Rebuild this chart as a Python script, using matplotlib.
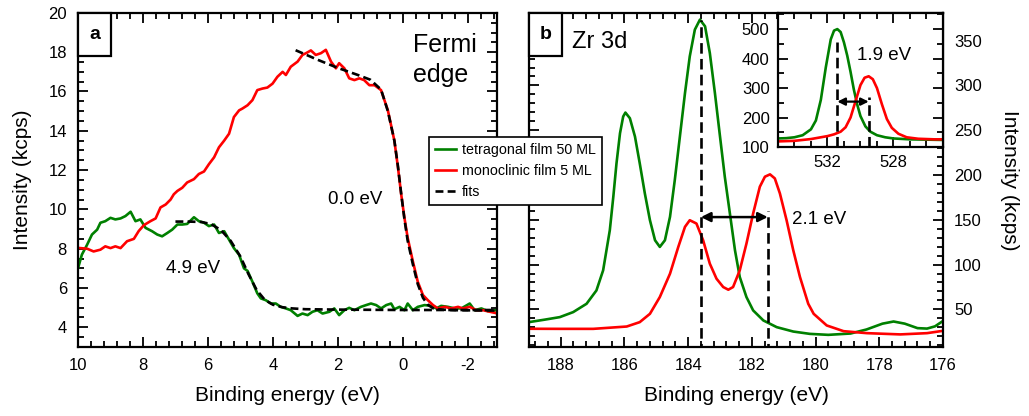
import matplotlib
matplotlib.use("Agg")
import matplotlib.pyplot as plt
from matplotlib.ticker import MultipleLocator, AutoMinorLocator
from matplotlib.patches import Rectangle

plt.rcParams["font.family"] = ["Liberation Sans", "DejaVu Sans"]
plt.rcParams["axes.unicode_minus"] = False

GREEN = "#008000"
RED = "#ff0000"

# --- panel a: valence band / Fermi edge (kcps) ---
mono_e = [9.93, 9.72, 9.52, 9.31, 9.16, 9.0, 8.85, 8.69, 8.49, 8.28, 8.13, 7.97, 7.77, 7.61,
          7.46, 7.3, 7.15, 7.05, 6.94, 6.79, 6.64, 6.43, 6.28, 6.12, 5.97, 5.81, 5.66, 5.5,
          5.35, 5.2, 5.04, 4.94, 4.78, 4.63, 4.48, 4.32, 4.17, 4.01, 3.86, 3.7, 3.6, 3.45,
          3.24, 3.09, 2.98, 2.83, 2.68, 2.52, 2.37, 2.21, 2.06, 1.96, 1.8, 1.65, 1.49, 1.34,
          1.19, 1.03, 0.87, 0.67, 0.46, 0.26, 0.15, 0.05, -0.05, -0.15, -0.31, -0.46, -0.62,
          -0.77, -0.93, -1.08, -1.29, -1.49, -1.7, -1.85, -2.06, -2.26, -2.47, -2.68, -2.93]
mono_i = [8.03, 8.0, 7.86, 7.95, 8.12, 8.03, 8.12, 8.03, 8.38, 8.5, 8.9, 9.2, 9.4, 9.54,
          10.1, 10.25, 10.5, 10.77, 10.94, 11.1, 11.37, 11.54, 11.8, 11.93, 12.3, 12.65, 13.16, 13.5,
          13.85, 14.7, 15.04, 15.13, 15.3, 15.56, 16.07, 16.15, 16.2, 16.4, 16.75, 17.0, 16.84, 17.26,
          17.52, 17.86, 17.95, 18.09, 17.86, 17.95, 18.12, 17.52, 17.18, 17.44, 17.18, 16.67, 16.58, 16.67,
          16.58, 16.32, 16.32, 16.07, 15.04, 13.5, 12.14, 10.77, 9.57, 8.55, 7.35, 6.32, 5.64,
          5.38, 5.13, 4.96, 5.04, 4.96, 5.04, 4.96, 5.04, 4.87, 4.87, 4.79, 4.7]

tetra_e = [10.0, 9.88, 9.72, 9.57, 9.41, 9.31, 9.16, 9.0, 8.85, 8.69, 8.54, 8.38, 8.23, 8.08,
           7.92, 7.72, 7.56, 7.41, 7.25, 7.1, 6.94, 6.79, 6.64, 6.43, 6.28, 6.12, 5.97, 5.81,
           5.66, 5.5, 5.35, 5.2, 5.04, 4.89, 4.78, 4.63, 4.48, 4.37, 4.22, 4.06, 3.91, 3.76,
           3.6, 3.45, 3.24, 3.09, 2.93, 2.78, 2.63, 2.47, 2.26, 2.11, 1.96, 1.8, 1.65, 1.49,
           1.29, 1.13, 0.98, 0.82, 0.67, 0.51, 0.36, 0.26, 0.1, -0.05, -0.15, -0.31, -0.46,
           -0.67, -0.87, -1.03, -1.18, -1.39, -1.6, -1.8, -2.06, -2.21, -2.42, -2.62, -2.88]
tetra_i = [7.0, 7.7, 8.2, 8.72, 8.97, 9.32, 9.4, 9.57, 9.49, 9.54, 9.66, 9.88, 9.4, 9.49,
           9.06, 8.89, 8.72, 8.63, 8.8, 8.97, 9.23, 9.23, 9.26, 9.6, 9.4, 9.32, 9.15, 9.23,
           8.8, 8.89, 8.46, 8.03, 7.69, 7.0, 6.87, 6.32, 5.73, 5.47, 5.38, 5.21, 5.21, 5.04,
           4.96, 4.87, 4.58, 4.7, 4.62, 4.79, 4.87, 4.7, 4.79, 4.96, 4.62, 4.87, 4.99, 4.87,
           5.04, 5.13, 5.21, 5.13, 4.96, 5.13, 5.21, 4.92, 5.04, 4.87, 5.21, 4.87, 5.04,
           5.13, 5.09, 4.96, 5.09, 5.04, 4.96, 4.96, 5.21, 4.87, 4.96, 4.82, 4.87]

fit_mono_e = [3.3, 2.6, 2.0, 1.4, 1.0, 0.67, 0.46, 0.26, 0.15, 0.05, -0.05, -0.15, -0.31,
              -0.46, -0.62, -0.77, -0.93, -1.2, -1.6, -2.2, -2.93]
fit_mono_i = [18.1, 17.6, 17.2, 16.85, 16.6, 16.1, 15.0, 13.5, 12.2, 10.8, 9.5, 8.4, 7.2,
              6.2, 5.5, 5.15, 4.97, 4.9, 4.87, 4.86, 4.85]

fit_tetra_e = [7.0, 6.6, 6.2, 5.9, 5.6, 5.3, 5.0, 4.75, 4.5, 4.25, 4.0, 3.7, 3.4, 3.0,
               2.0, 1.0, 0.0, -1.0, -2.0, -2.93]
fit_tetra_i = [9.38, 9.38, 9.36, 9.25, 8.95, 8.4, 7.6, 6.7, 5.9, 5.4, 5.15, 5.02, 4.96, 4.92,
               4.9, 4.89, 4.88, 4.88, 4.88, 4.88]

# --- panel b: Zr 3d core level (kcps) ---
zr_tetra_e = [189.0, 188.5, 188.03, 187.61, 187.19, 186.88, 186.67, 186.46, 186.35, 186.25,
              186.14, 186.04, 185.97, 185.83, 185.67, 185.52, 185.36, 185.2, 185.04, 184.89,
              184.73, 184.57, 184.42, 184.26, 184.1, 183.95, 183.79, 183.63, 183.47, 183.32,
              183.16, 183.0, 182.85, 182.69, 182.53, 182.38, 182.17, 181.96, 181.64, 181.22,
              180.7, 180.18, 179.6, 178.9, 178.4, 177.9, 177.55, 177.2, 176.8, 176.5,
              176.25, 176.0]
zr_tetra_i = [35.7, 38.5, 41.3, 46.9, 56.2, 71.1, 93.5, 138.3, 175.7, 213.0,
              246.6, 265.3, 269.7, 263.4, 242.9, 213.0, 179.4, 149.5, 127.1, 119.7,
              127.1, 153.3, 194.3, 242.9, 291.4, 332.4, 362.3, 373.5, 366.0, 336.2,
              291.4, 242.9, 198.1, 157.0, 115.9, 86.1, 63.7, 48.8, 37.6, 30.1,
              25.2, 22.6, 21.5, 23.0, 27.5, 34.0, 36.4, 34.0, 29.0, 28.5,
              31.0, 37.0]

zr_mono_e = [189.0, 188.03, 186.98, 185.93, 185.52, 185.2, 184.89, 184.57, 184.31, 184.1,
             183.95, 183.74, 183.53, 183.32, 183.11, 182.9, 182.74, 182.59, 182.38, 182.17,
             181.96, 181.75, 181.59, 181.43, 181.28, 181.12, 180.91, 180.7, 180.49, 180.23,
             180.06, 179.65, 179.12, 178.39, 177.34, 176.5, 176.0]
zr_mono_i = [28.3, 28.2, 28.2, 30.8, 35.7, 45.0, 63.7, 89.8, 119.7, 142.1,
             149.5, 145.8, 127.1, 101.0, 84.2, 74.9, 71.9, 74.9, 93.5, 123.4,
             157.0, 186.9, 198.1, 200.7, 196.2, 179.4, 149.5, 115.9, 86.1, 56.2,
             45.0, 32.0, 25.6, 23.4, 22.0, 23.4, 26.0]

zr_peak_tetra = 183.6
zr_peak_mono = 181.5

# --- inset: O 1s (kcps) ---
o_tetra_e = [535.0, 534.5, 534.0, 533.5, 533.0, 532.7, 532.4, 532.1, 531.8, 531.6, 531.4,
             531.2, 531.0, 530.8, 530.6, 530.4, 530.2, 530.0, 529.7, 529.4, 529.0, 528.5,
             528.0, 527.0, 526.0, 525.0]
o_tetra_i = [129, 130, 133, 140, 160, 190, 260, 370, 465, 495, 500,
             490, 455, 410, 355, 295, 245, 205, 170, 152, 140, 133,
             129, 126, 125, 124]
o_mono_e = [535.0, 534.0, 533.0, 532.5, 532.0, 531.6, 531.2, 530.9, 530.6, 530.3, 530.0,
            529.75, 529.5, 529.25, 529.0, 528.7, 528.4, 528.1, 527.7, 527.2, 526.5, 525.5,
            525.0]
o_mono_i = [119, 121, 127, 132, 137, 143, 152, 167, 200, 255, 310,
            335, 340, 330, 300, 245, 195, 165, 145, 133, 128, 126,
            126]

o_peak_tetra = 531.4
o_peak_mono = 529.5


def style_axes(ax, xmajor, xminor, ymajor, yminor, size=12):
    ax.xaxis.set_major_locator(MultipleLocator(xmajor))
    ax.xaxis.set_minor_locator(AutoMinorLocator(xminor))
    ax.yaxis.set_major_locator(MultipleLocator(ymajor))
    ax.yaxis.set_minor_locator(AutoMinorLocator(yminor))
    ax.tick_params(which="both", direction="in", top=True, right=True, width=1.3,
                   labelsize=size, pad=8)
    ax.tick_params(which="major", length=7)
    ax.tick_params(which="minor", length=4)
    for s in ax.spines.values():
        s.set_linewidth(1.6)


def panel_tag(ax, letter):
    ax.add_patch(Rectangle((0, 1 - 0.129), 0.079, 0.129, transform=ax.transAxes,
                           fc="white", ec="black", lw=1.6, zorder=5, clip_on=False))
    ax.text(0.0395, 1 - 0.0645, letter, transform=ax.transAxes, ha="center", va="center",
            fontsize=14, fontweight="bold", zorder=6)


fig = plt.figure(figsize=(10.29, 4.16), dpi=100)
ax_a = fig.add_axes([0.0758, 0.166, 0.4072, 0.803])
ax_b = fig.add_axes([0.514, 0.166, 0.4024, 0.803])
ax_in = fig.add_axes([0.756, 0.6466, 0.1604, 0.3224])

lw = 1.9
dash = (0, (3, 1.6))
vdash = (0, (4, 2))

# panel a
l_t, = ax_a.plot(tetra_e, tetra_i, color=GREEN, lw=lw, label="tetragonal film 50 ML")
l_m, = ax_a.plot(mono_e, mono_i, color=RED, lw=lw, label="monoclinic film 5 ML")
l_f, = ax_a.plot(fit_tetra_e, fit_tetra_i, color="black", lw=lw, ls=dash, label="fits")
ax_a.plot(fit_mono_e, fit_mono_i, color="black", lw=lw, ls=dash)
ax_a.set_xlim(10, -2.9)
ax_a.set_ylim(3, 20)
style_axes(ax_a, 2, 5, 2, 4)
panel_tag(ax_a, "a")
ax_a.text(-0.31, 17.6, "Fermi\nedge", fontsize=18, ha="left", va="center", linespacing=1.35)
ax_a.text(2.31, 10.5, "0.0 eV", fontsize=13.5, ha="left", va="center")
ax_a.text(7.28, 7.0, "4.9 eV", fontsize=13.5, ha="left", va="center")
ax_a.set_xlabel("Binding energy (eV)", fontsize=15, labelpad=9)

# panel b
ax_b.plot(zr_tetra_e, zr_tetra_i, color=GREEN, lw=lw)
ax_b.plot(zr_mono_e, zr_mono_i, color=RED, lw=lw)
ax_b.plot([zr_peak_tetra, zr_peak_tetra], [0, 373], color="black", lw=lw, ls=vdash)
ax_b.plot([zr_peak_mono, zr_peak_mono], [0, 160], color="black", lw=lw, ls=vdash)
ax_b.annotate("", xy=(zr_peak_mono, 153), xytext=(zr_peak_tetra, 153),
              arrowprops=dict(arrowstyle="<|-|>", color="black", lw=1.8,
                              mutation_scale=14, shrinkA=0, shrinkB=0))
ax_b.text(180.74, 150, "2.1 eV", fontsize=13.5, ha="left", va="center")
ax_b.text(187.65, 348, "Zr 3d", fontsize=17, ha="left", va="center")
ax_b.set_xlim(189, 176)
ax_b.set_ylim(8, 381)
style_axes(ax_b, 2, 5, 50, 5)
ax_b.tick_params(labelleft=False, labelright=True)
panel_tag(ax_b, "b")
ax_b.set_xlabel("Binding energy (eV)", fontsize=15, labelpad=9)

# inset
ax_in.plot(o_tetra_e, o_tetra_i, color=GREEN, lw=lw)
ax_in.plot(o_mono_e, o_mono_i, color=RED, lw=lw)
ax_in.plot([o_peak_tetra, o_peak_tetra], [100, 455], color="black", lw=lw, ls=vdash)
ax_in.plot([o_peak_mono, o_peak_mono], [100, 271], color="black", lw=lw, ls=vdash)
ax_in.annotate("", xy=(o_peak_mono, 254), xytext=(o_peak_tetra, 254),
               arrowprops=dict(arrowstyle="<|-|>", color="black", lw=1.6,
                               mutation_scale=11, shrinkA=0, shrinkB=0))
ax_in.text(530.23, 412, "1.9 eV", fontsize=13.5, ha="left", va="center")
ax_in.set_xlim(535, 525)
ax_in.set_ylim(100, 555)
style_axes(ax_in, 4, 4, 100, 2)
ax_in.tick_params(pad=6)

fig.text(0.0214, 0.567, "Intensity (kcps)", rotation=90, fontsize=15, ha="center", va="center")
fig.text(0.981, 0.567, "Intensity (kcps)", rotation=270, fontsize=15, ha="center", va="center")

leg = fig.legend(handles=[l_t, l_m, l_f], loc="upper left", bbox_to_anchor=(0.417, 0.671),
                 fontsize=10.3, frameon=True, fancybox=False, edgecolor="black", framealpha=1,
                 handlelength=1.5, handletextpad=0.4, borderpad=0.4, labelspacing=0.5,
                 borderaxespad=0)
leg.get_frame().set_linewidth(1.2)

fig.savefig("out.png", dpi=100)
